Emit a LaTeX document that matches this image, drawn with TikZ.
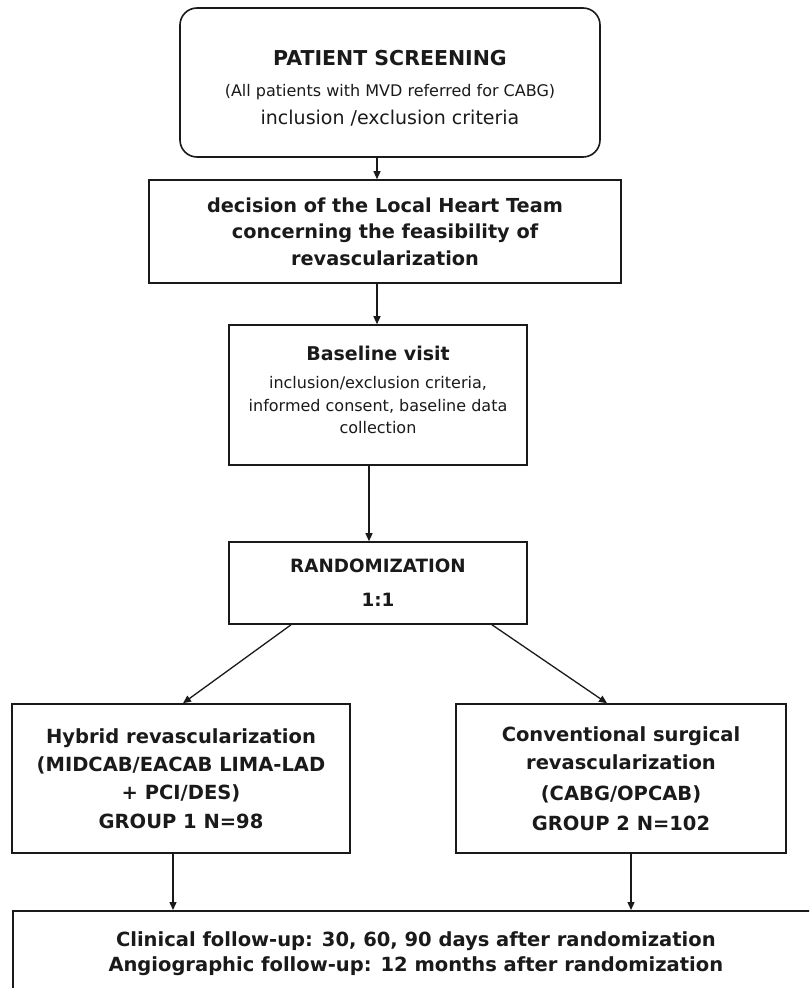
\documentclass[tikz,border=0pt]{standalone}
\usepackage{fontspec}
\setmainfont{DejaVu Sans}
\usetikzlibrary{arrows.meta}
\newcommand\fsz[2]{\fontsize{#1}{#2}\selectfont}
\definecolor{ink}{HTML}{1A1A1A}
\begin{document}
\begin{tikzpicture}[x=1pt,y=-1pt,
  box/.style={draw=ink, line width=1.6pt, align=center, inner sep=0pt, text=ink, fill=white},
  arr/.style={draw=ink, line width=1.3pt, -{Triangle[length=8pt,width=7pt]}}]
\clip (0,0) rectangle (809,988);
\fill[white] (0,0) rectangle (809,988);

\node[box, rounded corners=17pt, minimum width=420pt, minimum height=149pt, font=\fsz{16}{28}] (screen) at (390,82.5)
  {{\bfseries\fsz{20.5}{24}PATIENT SCREENING}\\[3pt]
   {\fsz{16}{22}(All patients with MVD referred for CABG)}\\
   {\fsz{19}{24}inclusion /exclusion criteria}\\[-38pt]\mbox{}};

\node[box, minimum width=472pt, minimum height=103pt, font=\bfseries\fsz{19.3}{26.5}] (team) at (385,231.5)
  {decision of the Local Heart Team\\concerning the feasibility of\\revascularization};

\node[box, minimum width=298pt, minimum height=140pt, font=\fsz{16}{22.5}] (base) at (378,395)
  {{\bfseries\fsz{19}{23}Baseline visit}\\[6pt]
   inclusion/exclusion criteria,\\informed consent, baseline data\\collection\\[-12pt]\mbox{}};

\node[box, minimum width=298pt, minimum height=82pt, font=\bfseries\fsz{18.3}{34}] (rand) at (378,583)
  {RANDOMIZATION\\1:1};

\node[box, minimum width=338pt, minimum height=149pt, font=\bfseries\fsz{19.5}{28}] (hyb) at (181,778.5)
  {Hybrid revascularization\\(MIDCAB/EACAB LIMA-LAD\\+ PCI/DES)\\[1pt]GROUP 1 N=98};

\node[box, minimum width=330pt, minimum height=149pt, font=\bfseries\fsz{19.5}{28}] (conv) at (621,778.5)
  {Conventional surgical\\revascularization\\[3pt](CABG/OPCAB)\\[2pt]GROUP 2 N=102};

\node[box, anchor=north west, minimum width=806pt, minimum height=85pt, font=\bfseries\fsz{19.5}{25}] (fu) at (12,910)
  {Clinical follow-up: 30, 60, 90 days after randomization\\Angiographic follow-up: 12 months after randomization};

\coordinate (xa) at (377,0);
\coordinate (xb) at (369,0);
\coordinate (dl) at (291,0);
\coordinate (tl) at (183,0);
\coordinate (dr) at (492,0);
\coordinate (tr) at (607,0);
\coordinate (xl) at (173,0);
\coordinate (xr) at (631,0);

\draw[arr] (screen.south -| xa) -- (team.north -| xa);
\draw[arr] (team.south -| xa) -- (base.north -| xa);
\draw[arr] (base.south -| xb) -- (rand.north -| xb);
\draw[arr] (rand.south -| dl) -- (hyb.north -| tl);
\draw[arr] (rand.south -| dr) -- (conv.north -| tr);
\draw[arr] (hyb.south -| xl) -- (fu.north -| xl);
\draw[arr] (conv.south -| xr) -- (fu.north -| xr);
\end{tikzpicture}
\end{document}
